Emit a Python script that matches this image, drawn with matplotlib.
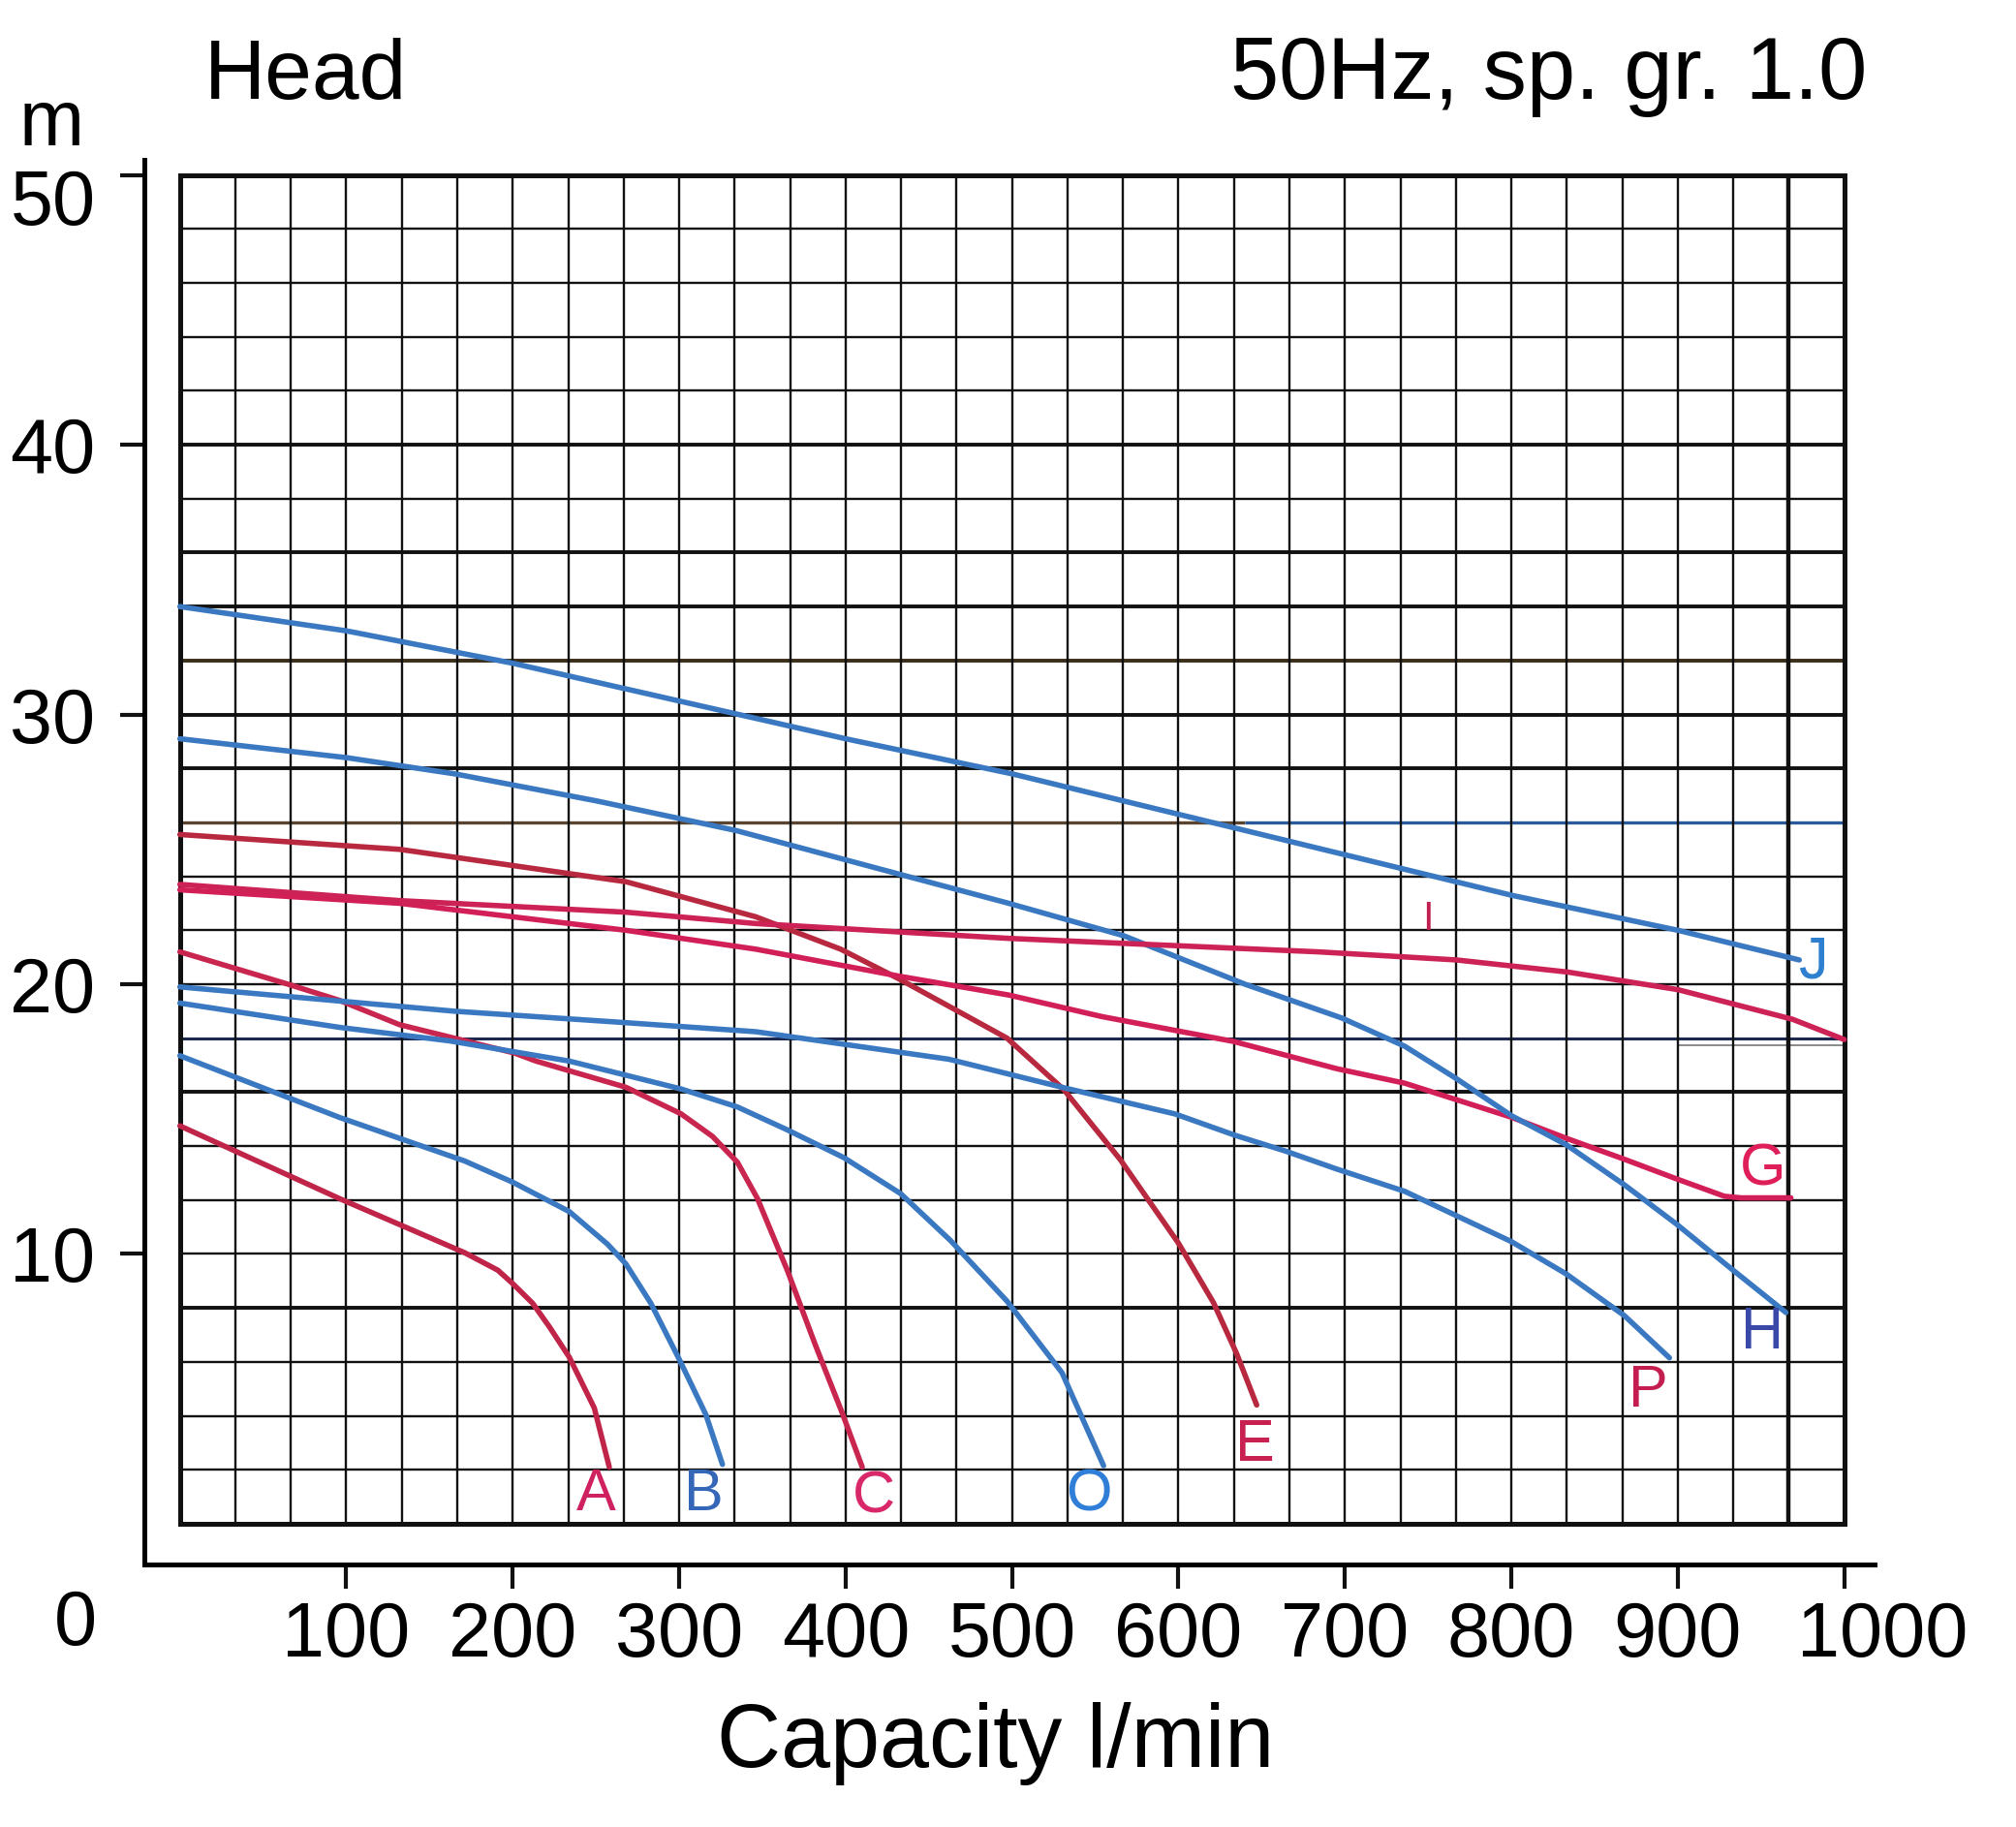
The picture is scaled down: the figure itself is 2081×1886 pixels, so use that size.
import numpy as np
import matplotlib
matplotlib.use('Agg')
import matplotlib.pyplot as plt
from matplotlib.patches import Rectangle
from matplotlib.transforms import ScaledTranslation

plt.rcParams['font.family'] = ['Liberation Sans', 'DejaVu Sans']

# curve data: capacity (l/min) vs head (m)
a_q = [0, 96, 171, 191, 200, 212, 222, 234, 249, 258]
a_h = [14.75, 12.05, 10.05, 9.4, 8.9, 8.17, 7.3, 6.17, 4.29, 2.1]

b_q = [0, 96, 171, 200, 234, 257, 268, 283, 300, 316, 326]
b_h = [17.35, 15.06, 13.45, 12.66, 11.57, 10.36, 9.63, 8.17, 6.1, 4.05, 2.2]

c_q = [0, 65, 96, 132, 201, 214, 268, 301, 320, 335, 347, 365, 382, 398, 410]
c_h = [21.2, 20.0, 19.4, 18.5, 17.45, 17.15, 16.18, 15.2, 14.36, 13.4, 12.06, 9.39, 6.6, 4.1, 2.1]

o_q = [0, 96, 162, 234, 301, 335, 365, 399, 433, 463, 497, 530, 555]
o_h = [19.3, 18.4, 17.9, 17.15, 16.12, 15.45, 14.6, 13.57, 12.24, 10.5, 8.25, 5.6, 2.15]

e_q = [0, 132, 268, 346, 397, 432, 474, 497, 531, 565, 600, 621, 635, 647]
e_h = [25.55, 25.0, 23.8, 22.5, 21.3, 20.2, 18.78, 18.0, 16.1, 13.5, 10.4, 8.2, 6.3, 4.4]

f_q = [0, 165, 262, 346, 462, 532, 598, 634, 665, 695, 736, 800, 833, 868, 895]
f_h = [19.9, 19.0, 18.6, 18.24, 17.22, 16.15, 15.19, 14.4, 13.8, 13.15, 12.32, 10.46, 9.26, 7.71, 6.15]

g_q = [0, 132, 268, 346, 432, 498, 554, 633, 695, 736, 800, 833, 868, 899, 928, 938, 968]
g_h = [23.5, 23.0, 22.0, 21.3, 20.3, 19.6, 18.8, 17.88, 16.87, 16.33, 15.07, 14.29, 13.51, 12.79, 12.14, 12.08, 12.08]

h_q = [0, 100, 165, 250, 334, 431, 498, 567, 640, 698, 736, 767, 800, 833, 868, 899, 930, 965]
h_h = [29.1, 28.4, 27.8, 26.8, 25.7, 24.1, 23.0, 21.8, 20.0, 18.75, 17.7, 16.5, 15.13, 14.05, 12.56, 11.12, 9.56, 7.83]

i_q = [0, 132, 268, 346, 498, 684, 767, 834, 900, 969, 1000]
i_h = [23.7, 23.1, 22.67, 22.25, 21.7, 21.2, 20.9, 20.45, 19.8, 18.7, 17.95]

j_q = [0, 100, 200, 300, 400, 500, 600, 700, 800, 900, 973]
j_h = [34.0, 33.1, 31.9, 30.5, 29.1, 27.8, 26.3, 24.8, 23.3, 22.0, 20.9]

BLUE = '#3a79c2'
RED = '#cc2255'
DARKRED = '#b8283f'

curves = [
    (a_q, a_h, '#c02448'),
    (b_q, b_h, BLUE),
    (c_q, c_h, '#c8254f'),
    (o_q, o_h, BLUE),
    (e_q, e_h, DARKRED),
    (f_q, f_h, BLUE),
    (g_q, g_h, '#d21f57'),
    (h_q, h_h, BLUE),
    (i_q, i_h, RED),
    (j_q, j_h, BLUE),
]

# curve letters: text, x, y, colour, size
letters = [
    ('A', 250, 1.05, '#cf2060', 44),
    ('B', 315, 1.05, '#3566b8', 44),
    ('C', 417, 0.95, '#d8286a', 44),
    ('O', 546, 1.05, '#2f7fd8', 44),
    ('E', 646, 2.9, '#c82050', 44),
    ('P', 882, 4.9, '#c41e50', 44),
    ('H', 951, 7.05, '#3a48a8', 44),
    ('G', 951, 13.1, '#de1f5a', 44),
    ('I', 750, 22.4, '#c02050', 30),
    ('J', 982, 20.8, '#2f7fd0', 44),
]

x_ticks = [100, 200, 300, 400, 500, 600, 700, 800, 900, 1000]
y_ticks = [10, 20, 30, 40, 50]

grid_x = np.arange(0, 1001, 100 / 3)
grid_y = np.arange(0, 51, 2)
thick_y = [8, 16, 28, 30, 32, 34, 36, 40]

fig = plt.figure(figsize=(20.81, 18.86), dpi=100)
ax = fig.add_axes([0.0714, 0.1437, 0.9298 - 0.0714, 0.9125 - 0.1437])
ax.set_xlim(-21.6, 1018.2)
ax.set_ylim(-1.51, 50.56)

# grid
for gy in grid_y:
    lw = 2.8 if gy in thick_y else 1.7
    if gy == 18:
        ax.hlines(gy, 0, 1000, color='#1c2850', lw=2.2, zorder=1)
    elif gy == 26:
        ax.hlines(gy, 0, 640, color='#5a4530', lw=2.4, zorder=1)
        ax.hlines(gy, 640, 1000, color='#2a5a9a', lw=2.4, zorder=1)
    elif gy == 32:
        ax.hlines(gy, 0, 1000, color='#3a2e1a', lw=lw, zorder=1)
    else:
        ax.hlines(gy, 0, 1000, color='#111111', lw=lw, zorder=1)
ax.hlines(17.75, 900, 1000, color='#777777', lw=1.2, zorder=1)
for gx in grid_x:
    lw = 3.2 if abs(gx - 966.67) < 1 else 1.7
    ax.vlines(gx, 0, 50, color='#111111', lw=lw, zorder=1)
ax.add_patch(Rectangle((0, 0), 1000, 50, fill=False, lw=3.6, ec='#111111', zorder=2))

for q, h, col in curves:
    ax.plot(q, h, color=col, lw=4.0, solid_capstyle='round', solid_joinstyle='round', zorder=3)

for txt, lx, ly, col, fs in letters:
    ax.text(lx, ly, txt, color=col, fontsize=fs, ha='center', va='center', zorder=4)

# outer axes
for side in ['top', 'right']:
    ax.spines[side].set_visible(False)
for side in ['left', 'bottom']:
    ax.spines[side].set_linewidth(3.6)
ax.set_xticks(x_ticks)
ax.set_yticks(y_ticks)
ax.tick_params(axis='both', direction='out', length=18, width=3, labelsize=57, color='#111111')
ax.tick_params(axis='x', pad=9)
ax.tick_params(axis='y', pad=18)

# nudge a couple of labels like in the original sheet
ax.get_xticklabels()[-1].set_transform(
    ax.get_xticklabels()[-1].get_transform() + ScaledTranslation(0.4, 0, fig.dpi_scale_trans))
ax.get_yticklabels()[-1].set_transform(
    ax.get_yticklabels()[-1].get_transform() + ScaledTranslation(0, -0.22, fig.dpi_scale_trans))

fig.text(0.0375, 0.1108, '0', fontsize=57, ha='center', va='center')
fig.text(0.0255, 0.9316, 'm', fontsize=58, ha='center', va='center')
fig.text(0.1514, 0.9459, 'Head', fontsize=63, ha='center', va='baseline')
fig.text(0.768, 0.9459, '50Hz, sp. gr. 1.0', fontsize=65, ha='center', va='baseline')
fig.text(0.494, 0.0329, 'Capacity l/min', fontsize=66, ha='center', va='baseline')

fig.savefig('out.png', dpi=100, facecolor='white')
